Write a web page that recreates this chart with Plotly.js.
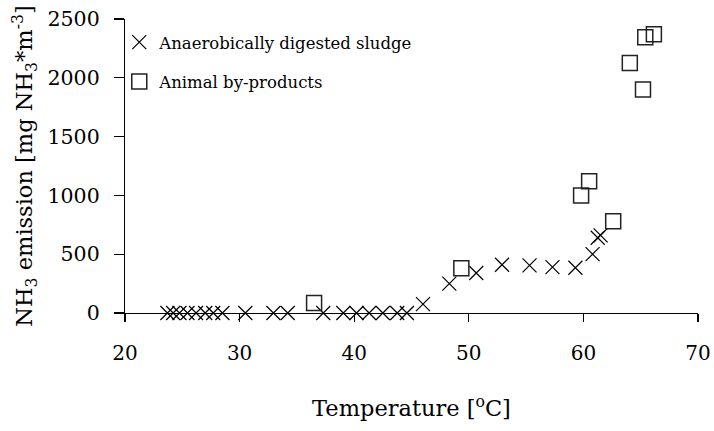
<!DOCTYPE html>
<html>
<head>
<meta charset="utf-8">
<script src="https://cdn.plot.ly/plotly-3.0.1.min.js"></script>
<style>html,body{margin:0;padding:0;background:#fff;}#chart{width:714px;height:431px;}</style>
</head>
<body>
<div id="chart"></div>
<script>
// Anaerobically digested sludge
const sludgeTemp = [23.7, 24.2, 24.75, 25.45, 26.2, 27.0, 27.7, 28.5, 30.5, 32.95, 34.2,
  37.3, 39.05, 40.2, 41.3, 42.5, 43.75, 44.6, 46.0, 48.3, 50.65, 52.9, 55.3, 57.3, 59.3,
  60.8, 61.25, 61.5];
const sludgeNH3 = [0, 0, 0, 0, 0, 0, 0, 0, 0, 0, 0,
  0, 0, 0, 0, 0, 0, 0, 75, 250, 340, 410, 405, 390, 385,
  500, 640, 660];
// Animal by-products
const abpTemp = [36.5, 49.35, 59.8, 60.5, 62.6, 64.05, 65.2, 65.4, 66.15];
const abpNH3 = [85, 380, 1000, 1120, 780, 2125, 1900, 2345, 2370];

const xTicks = [20, 30, 40, 50, 60, 70];
const yTicks = [0, 500, 1000, 1500, 2000, 2500];

const FONT = "DejaVu Serif";

const data = [
  {
    x: sludgeTemp, y: sludgeNH3, type: 'scatter', mode: 'markers',
    name: 'Anaerobically digested sludge', legendgroup: 'a',
    marker: {symbol: 'x-thin', size: 14, color: '#000', line: {width: 1.2, color: '#000'}},
    cliponaxis: false
  },
  {
    x: abpTemp, y: abpNH3, type: 'scatter', mode: 'markers',
    name: 'Animal by-products', legendgroup: 'b',
    marker: {symbol: 'square-open', size: 15, color: '#222', line: {width: 1.5, color: '#222'}},
    cliponaxis: false
  }
];

const layout = {
  width: 714, height: 431,
  margin: {l: 124.5, r: 16, t: 19, b: 118},
  paper_bgcolor: '#fff', plot_bgcolor: '#fff',
  font: {family: FONT, color: '#000', size: 18},
  showlegend: true,
  legend: {
    x: -0.01, y: 0.98, xanchor: 'left', yanchor: 'top',
    bgcolor: 'rgba(0,0,0,0)', font: {family: FONT, size: 16.5, color: '#000'},
    traceorder: 'grouped', tracegroupgap: 15, itemwidth: 30
  },
  xaxis: {
    range: [20, 70], tickvals: xTicks, ticktext: xTicks.map(String),
    showgrid: false, zeroline: false, showline: true, linecolor: '#000', linewidth: 1.2,
    ticks: 'outside', ticklen: 8, tickwidth: 1.2, tickcolor: '#000',
    tickfont: {family: FONT, size: 20, color: '#000'}, ticklabelstandoff: 14,
    title: {text: 'Temperature [<sup>o</sup>C]', font: {family: FONT, size: 22.5, color: '#000'}, standoff: 36},
    automargin: false
  },
  yaxis: {
    range: [0, 2500], tickvals: yTicks, ticktext: yTicks.map(String),
    showgrid: false, zeroline: false, showline: true, linecolor: '#000', linewidth: 1.2,
    ticks: 'outside', ticklen: 10, tickwidth: 1.2, tickcolor: '#000',
    tickfont: {family: FONT, size: 20.5, color: '#000'}, ticklabelstandoff: 10,
    title: {text: 'NH<sub>3</sub> emission [mg NH<sub>3</sub>*m<sup>-3</sup>]', font: {family: FONT, size: 22.5, color: '#000'}, standoff: 8},
    automargin: false
  }
};

Plotly.newPlot('chart', data, layout, {displayModeBar: false, staticPlot: true});
</script>
</body>
</html>
